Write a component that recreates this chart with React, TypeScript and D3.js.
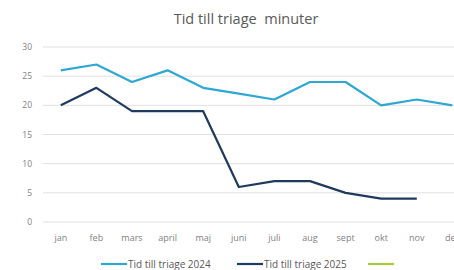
import * as d3 from "d3";
import React, { useRef, useEffect } from "react";

const months = ["jan", "feb", "mars", "april", "maj", "juni", "juli", "aug", "sept", "okt", "nov", "dec"];
const values2024 = [26, 27, 24, 26, 23, 22, 21, 24, 24, 20, 21, 20];
const values2025 = [20, 23, 19, 19, 19, 6, 7, 7, 5, 4, 4];
const yTicks = [0, 5, 10, 15, 20, 25, 30];
const seriesNames = ["Tid till triage 2024", "Tid till triage 2025", ""];
const seriesColors = ["#2ea8d3", "#1f3a5f", "#a9c93c"];

const W = 454;
const H = 270;
const margin = { top: 47, left: 43, bottom: 48 };
const font = "'Open Sans', 'Noto Sans', sans-serif";

const drawChart = (ref: any) => {
  const svg = d3.select(ref.current);
  svg.selectAll("*").remove();

  const x = d3.scaleBand().domain(months).range([margin.left, margin.left + 12 * 35.6]);
  const y = d3.scaleLinear().domain([0, 30]).range([H - margin.bottom, margin.top]);

  svg
    .append("text")
    .attr("x", 246)
    .attr("y", 24)
    .attr("text-anchor", "middle")
    .attr("font-family", font)
    .attr("font-size", 14.5)
    .attr("fill", "#595959")
    .style("white-space", "pre")
    .text("Tid till triage  minuter");

  // gridlines
  svg
    .append("g")
    .selectAll("line")
    .data(yTicks)
    .enter()
    .append("line")
    .attr("x1", margin.left)
    .attr("x2", W)
    .attr("y1", (d: number) => y(d))
    .attr("y2", (d: number) => y(d))
    .attr("stroke", "#e0e0e0")
    .attr("stroke-width", 1);

  // y labels
  svg
    .append("g")
    .selectAll("text")
    .data(yTicks)
    .enter()
    .append("text")
    .attr("x", 32)
    .attr("y", (d: number) => y(d) + 3)
    .attr("text-anchor", "end")
    .attr("font-family", font)
    .attr("font-size", 8.5)
    .attr("fill", "#7f7f7f")
    .text((d: number) => d);

  // x labels (last one is cut off at the right edge, as in the original)
  svg
    .append("g")
    .selectAll("text")
    .data(months)
    .enter()
    .append("text")
    .attr("x", (d: string) => x(d)! + x.bandwidth() / 2)
    .attr("y", 241)
    .attr("text-anchor", "middle")
    .attr("font-family", font)
    .attr("font-size", 9)
    .attr("fill", "#7f7f7f")
    .text((d: string) => d);

  const line = d3
    .line<number>()
    .x((d, i) => x(months[i])! + x.bandwidth() / 2)
    .y((d) => y(d));

  [values2024, values2025].forEach((vals, i) => {
    svg
      .append("path")
      .attr("d", line(vals))
      .attr("fill", "none")
      .attr("stroke", seriesColors[i])
      .attr("stroke-width", 2.2)
      .attr("stroke-linejoin", "round");
  });

  // legend
  const legendX = [101, 237, 368];
  seriesNames.forEach((name, i) => {
    const g = svg.append("g").attr("transform", "translate(" + legendX[i] + ",264)");
    g.append("line")
      .attr("x1", 0)
      .attr("x2", 26)
      .attr("y1", 0)
      .attr("y2", 0)
      .attr("stroke", seriesColors[i])
      .attr("stroke-width", 2.2);
    if (name) {
      g.append("text")
        .attr("x", 27)
        .attr("y", 3.5)
        .attr("font-family", font)
        .attr("font-size", 10)
        .attr("fill", "#595959")
        .text(name);
    }
  });
};

function App() {
  const ref = useRef<any>();
  useEffect(() => {
    drawChart(ref);
  }, []);
  return (
    <div style={{ position: "fixed", left: 0, top: 0, width: W, height: H, background: "#fff" }}>
      <svg ref={ref} width={W} height={H} style={{ display: "block" }}></svg>
    </div>
  );
}

export default App;
